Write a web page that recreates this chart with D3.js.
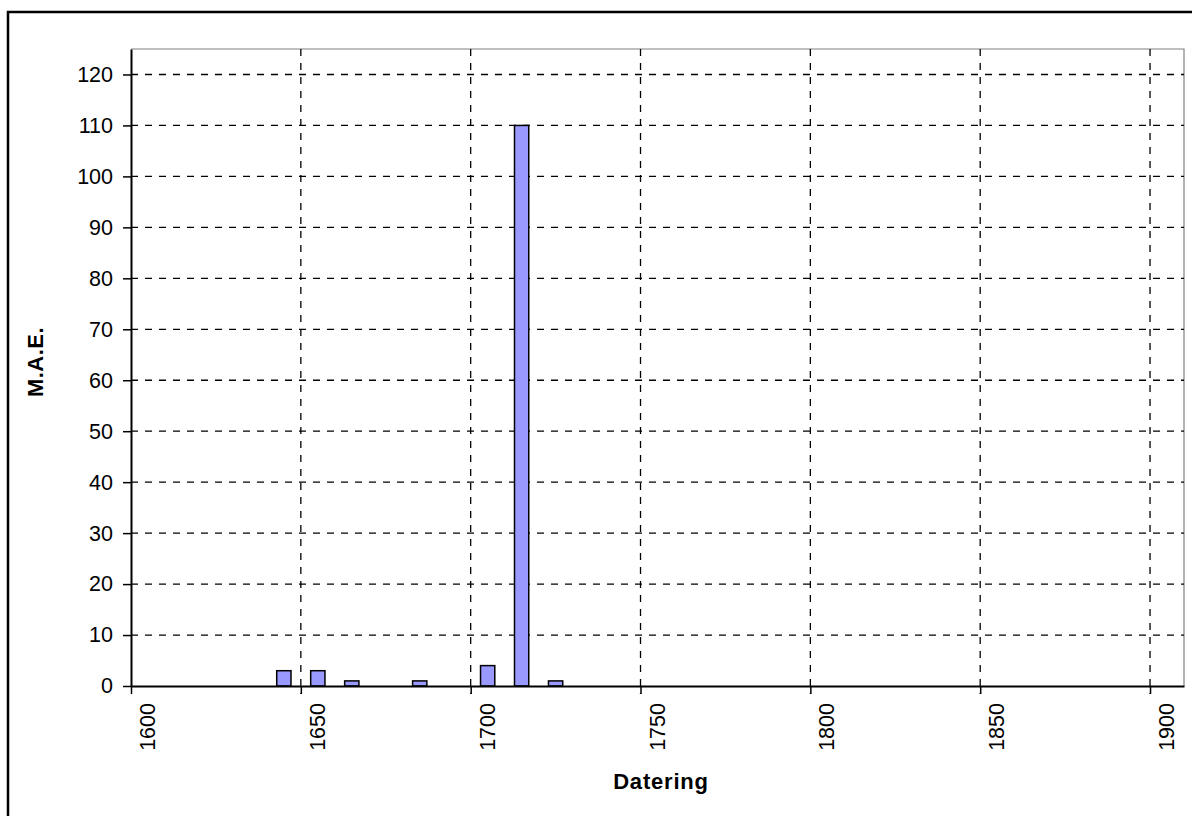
<!DOCTYPE html>
<html>
<head>
<meta charset="utf-8">
<script src="https://cdn.jsdelivr.net/npm/d3@7"></script>
<style>
  body { margin: 0; background: #fff; }
  svg { display: block; font-family: "Liberation Sans", Arial, sans-serif; }
</style>
</head>
<body>
<div id="chart"></div>
<script>
// Bins (start year of each 10-year bin) and counts
const binStarts = [1640, 1650, 1660, 1680, 1700, 1710, 1720];
const counts = [3, 3, 1, 1, 4, 110, 1];
const xTickValues = [1600, 1650, 1700, 1750, 1800, 1850, 1900];
const yTickValues = [0, 10, 20, 30, 40, 50, 60, 70, 80, 90, 100, 110, 120];
const xTitle = "Datering";
const yTitle = "M.A.E.";

document.addEventListener("DOMContentLoaded", function () {
  const W = 1192, H = 816;
  const plot = { left: 131, right: 1184, top: 49, bottom: 686 };

  const svg = d3.select("#chart")
    .append("svg")
    .attr("width", W)
    .attr("height", H);

  // outer chart frame (runs off the page at right and bottom)
  svg.append("rect")
    .attr("x", 8).attr("y", 12)
    .attr("width", 1300).attr("height", 1000)
    .attr("fill", "#fff")
    .attr("stroke", "#000")
    .attr("stroke-width", 2.5);

  const x = d3.scaleLinear().domain([1600, 1910]).range([plot.left, plot.right]);
  const y = d3.scaleLinear().domain([0, 125]).range([plot.bottom, plot.top]);

  // plot area border (top + right, grey)
  svg.append("path")
    .attr("d", `M${plot.left},${plot.top}H${plot.right}V${plot.bottom}`)
    .attr("fill", "none")
    .attr("stroke", "#808080")
    .attr("stroke-width", 1.2);

  // horizontal dashed grid
  svg.append("g")
    .selectAll("line")
    .data(yTickValues.filter(v => v > 0))
    .join("line")
    .attr("x1", plot.left).attr("x2", plot.right)
    .attr("y1", d => y(d)).attr("y2", d => y(d))
    .attr("stroke", "#000")
    .attr("stroke-width", 1.3)
    .attr("stroke-dasharray", "7,7");

  // vertical dashed grid (goes down through the axis like a tick)
  svg.append("g")
    .selectAll("line")
    .data(xTickValues.filter(v => v > 1600))
    .join("line")
    .attr("x1", d => x(d)).attr("x2", d => x(d))
    .attr("y1", plot.top).attr("y2", plot.bottom + 8)
    .attr("stroke", "#000")
    .attr("stroke-width", 1.3)
    .attr("stroke-dasharray", "7,7");

  // bars
  const bins = binStarts.map((s, i) => ({ start: s, count: counts[i] }));
  svg.append("g")
    .selectAll("rect")
    .data(bins)
    .join("rect")
    .attr("x", d => x(d.start + 5 - 2.1))
    .attr("width", d => x(d.start + 5 + 2.1) - x(d.start + 5 - 2.1))
    .attr("y", d => y(d.count))
    .attr("height", d => y(0) - y(d.count))
    .attr("fill", "#9999ff")
    .attr("stroke", "#000")
    .attr("stroke-width", 1.5);

  // Y axis
  const yAxis = svg.append("g")
    .attr("transform", `translate(${plot.left},0)`)
    .call(d3.axisLeft(y).tickValues(yTickValues).tickSize(8).tickSizeOuter(0).tickPadding(10));
  yAxis.select(".domain").attr("stroke-width", 2);
  yAxis.selectAll(".tick line").attr("stroke-width", 1.5);
  yAxis.selectAll(".tick text")
    .attr("font-family", "Liberation Sans, Arial, sans-serif")
    .attr("font-size", 21.5)
    .attr("fill", "#000");

  // X axis
  const xAxis = svg.append("g")
    .attr("transform", `translate(0,${plot.bottom})`)
    .call(d3.axisBottom(x).tickValues(xTickValues).tickSize(8).tickSizeOuter(0).tickFormat(d3.format("d")));
  xAxis.select(".domain").attr("stroke-width", 2);
  xAxis.selectAll(".tick line").attr("stroke-width", 1.5);
  xAxis.selectAll(".tick text")
    .attr("font-family", "Liberation Sans, Arial, sans-serif")
    .attr("font-size", 21.5)
    .attr("fill", "#000")
    .attr("text-anchor", "end")
    .attr("y", 0)
    .attr("dy", "0.35em")
    .attr("transform", "translate(16,17) rotate(-90)");

  // axis titles
  svg.append("text")
    .attr("x", 661)
    .attr("y", 789)
    .attr("text-anchor", "middle")
    .attr("font-size", 22)
    .attr("font-weight", "bold")
    .attr("letter-spacing", 0.8)
    .text(xTitle);

  svg.append("text")
    .attr("transform", "translate(43,362) rotate(-90)")
    .attr("text-anchor", "middle")
    .attr("font-size", 22)
    .attr("font-weight", "bold")
    .attr("letter-spacing", 0.5)
    .text(yTitle);
});
</script>
</body>
</html>
